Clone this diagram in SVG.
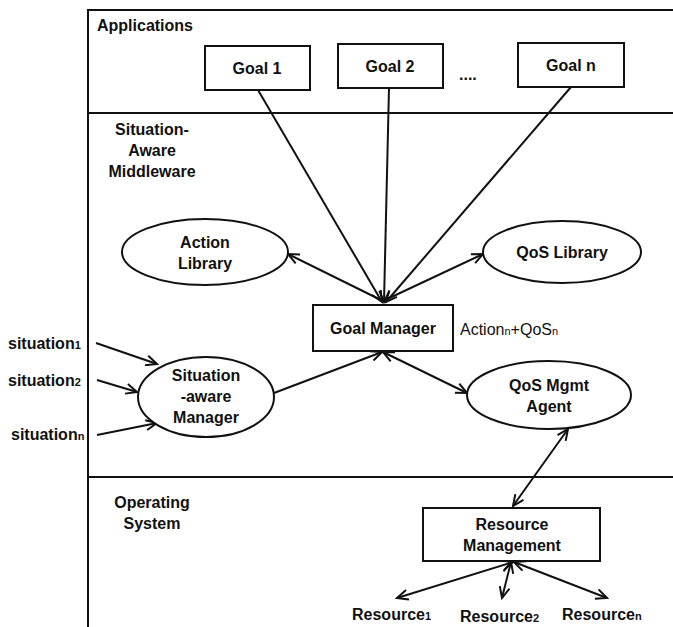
<svg xmlns="http://www.w3.org/2000/svg" width="673" height="627" viewBox="0 0 673 627">
<style>
text{font-family:"Liberation Sans",Arial,sans-serif;font-weight:bold;font-size:16px;fill:#111}
.c{text-anchor:middle}
.n{font-weight:normal}
.sub{font-size:11px}
.frame{stroke:#111;stroke-width:2;fill:none}
.box{stroke:#111;stroke-width:2;fill:#fff}
.conn line{stroke:#111;stroke-width:2}
</style>
<defs>
<marker id="a" viewBox="0 0 14 12" markerWidth="14" markerHeight="12" refX="12" refY="6" orient="auto-start-reverse" markerUnits="userSpaceOnUse">
<path d="M1,1 L12,6 L1,11" fill="none" stroke="#111" stroke-width="2"/>
</marker>
</defs>
<g id="layers">
<path class="frame" d="M88,627 V10 H673 M88,113 H673 M88,477 H673"/>
<text x="97" y="31">Applications</text>
<text class="c" x="152" y="135">Situation-</text>
<text class="c" x="152" y="156">Aware</text>
<text class="c" x="152" y="177">Middleware</text>
<text class="c" x="152" y="508">Operating</text>
<text class="c" x="152" y="529">System</text>
<text x="459" y="80">....</text>
</g>
<g class="conn">
<line x1="96" y1="343" x2="157" y2="364" marker-end="url(#a)"/>
<line x1="97" y1="380" x2="137" y2="392" marker-end="url(#a)"/>
<line x1="97" y1="435" x2="157" y2="423" marker-end="url(#a)"/>
<line x1="274" y1="393" x2="382" y2="352" marker-end="url(#a)"/>
<line x1="383" y1="352" x2="467" y2="393" marker-start="url(#a)" marker-end="url(#a)"/>
<line x1="383" y1="301" x2="288" y2="254" marker-end="url(#a)"/>
<line x1="383" y1="301" x2="483" y2="254" marker-end="url(#a)"/>
<line x1="258" y1="90" x2="382" y2="302" marker-end="url(#a)"/>
<line x1="389" y1="88" x2="384" y2="302" marker-end="url(#a)"/>
<line x1="571" y1="87" x2="386" y2="302" marker-end="url(#a)"/>
<line x1="568" y1="429" x2="513" y2="506" marker-start="url(#a)" marker-end="url(#a)"/>
<line x1="513" y1="562" x2="397" y2="598" marker-start="url(#a)" marker-end="url(#a)"/>
<line x1="511" y1="562" x2="502" y2="598" marker-start="url(#a)" marker-end="url(#a)"/>
<line x1="514" y1="562" x2="607" y2="598" marker-start="url(#a)" marker-end="url(#a)"/>
</g>
<g id="goal1"><rect class="box" x="205" y="46" width="105" height="44"/><text class="c" x="257" y="74">Goal 1</text></g>
<g id="goal2"><rect class="box" x="338" y="44" width="105" height="44"/><text class="c" x="390" y="72">Goal 2</text></g>
<g id="goaln"><rect class="box" x="518" y="43" width="106" height="44"/><text class="c" x="571" y="71">Goal n</text></g>
<g id="actionLibrary"><ellipse class="box" cx="205" cy="252" rx="83" ry="33"/><text class="c" x="205" y="248">Action</text><text class="c" x="205" y="269">Library</text></g>
<g id="qosLibrary"><ellipse class="box" cx="562" cy="252" rx="79" ry="31"/><text class="c" x="562" y="258">QoS Library</text></g>
<g id="goalManager"><rect class="box" x="313" y="305" width="140" height="46"/><text class="c" x="383" y="334">Goal Manager</text>
<text class="n" x="460" y="335" font-size="16">Action<tspan class="sub">n</tspan>+QoS<tspan class="sub">n</tspan></text></g>
<g id="situationManager"><ellipse class="box" cx="206" cy="397" rx="68" ry="40"/><text class="c" x="206" y="381">Situation</text><text class="c" x="206" y="402">-aware</text><text class="c" x="206" y="423">Manager</text></g>
<g id="qosMgmtAgent"><ellipse class="box" cx="549" cy="395" rx="82" ry="34"/><text class="c" x="549" y="391">QoS Mgmt</text><text class="c" x="549" y="412">Agent</text></g>
<g id="resourceManagement"><rect class="box" x="423" y="508" width="177" height="53"/><text class="c" x="512" y="530">Resource</text><text class="c" x="512" y="551">Management</text></g>
<g id="situations">
<text x="8" y="349" font-size="15">situation<tspan class="sub">1</tspan></text>
<text x="8" y="386" font-size="15">situation<tspan class="sub">2</tspan></text>
<text x="11" y="440" font-size="15">situation<tspan class="sub">n</tspan></text>
</g>
<g id="resources">
<text x="352" y="620" font-size="15">Resource<tspan class="sub">1</tspan></text>
<text x="460" y="622" font-size="15">Resource<tspan class="sub">2</tspan></text>
<text x="562" y="620" font-size="15">Resource<tspan class="sub">n</tspan></text>
</g>
</svg>
